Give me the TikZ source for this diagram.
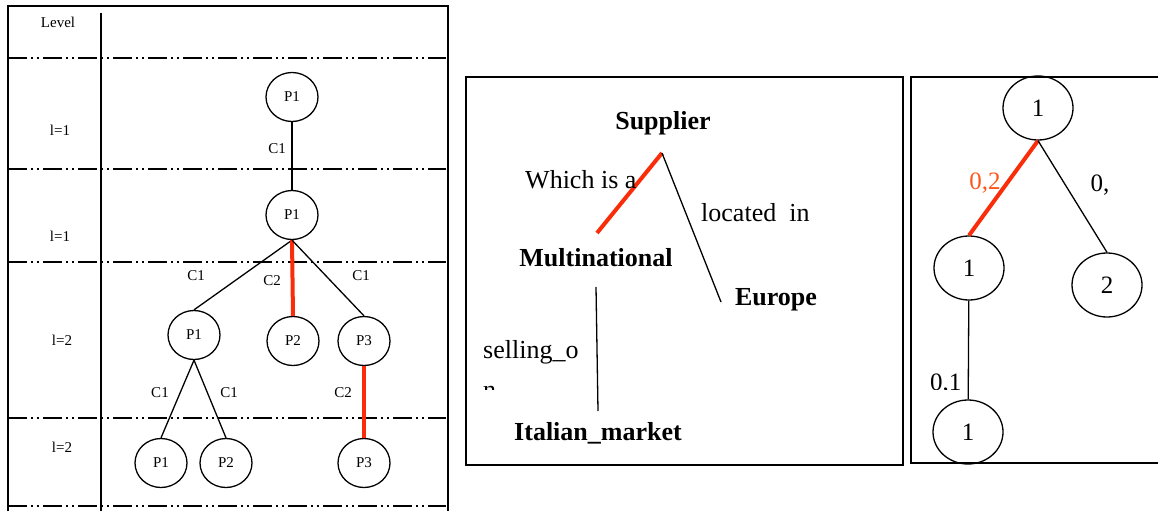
\documentclass[tikz,border=0pt]{standalone}
\usepackage{fontspec}
\setmainfont{Liberation Serif}
\usetikzlibrary{shapes.geometric}
\definecolor{hot}{RGB}{250,45,10}
\definecolor{hottext}{RGB}{255,85,25}

\begin{document}
\begin{tikzpicture}[x=1pt,y=-1pt,
    pn/.style={ellipse,draw,line width=1.3pt,minimum width=52pt,minimum height=49pt,
      inner sep=0pt,font=\fontsize{15}{15}\selectfont},
    rn/.style={ellipse,draw,line width=1.3pt,minimum width=70pt,minimum height=64pt,
      inner sep=0pt,font=\fontsize{25}{25}\selectfont},
    lab/.style={inner sep=0pt,font=\fontsize{15}{15}\selectfont},
    rlab/.style={inner sep=0pt,font=\fontsize{25}{25}\selectfont},
    term/.style={inner sep=0pt,font=\fontsize{26}{26}\selectfont\bfseries},
    rel/.style={inner sep=0pt,font=\fontsize{26}{26}\selectfont},
    edge/.style={line width=1.3pt},
    hl/.style={hot,line width=4pt},
    frame/.style={line width=1.8pt},
    lvl/.style={line width=1.8pt,dash pattern=on 19pt off 4pt on 2pt off 4pt on 2pt off 4pt}]
  \useasboundingbox (0,0) rectangle (1158,511);

  % level table
  \draw[frame] (8,511) -- (8,6) -- (448,6) -- (448,511);
  \draw[frame] (101,13) -- (101,511);
  \draw[lvl] (8,58) -- (446,58);
  \draw[lvl] (8,169) -- (446,169);
  \draw[lvl] (8,262) -- (446,262);
  \draw[lvl] (8,418) -- (446,418);
  \draw[lvl] (8,506) -- (446,506);
  \node[lab] (lv) at (58,22) {Level};
  \node[lab] (l1) at (60,130) {l=1};
  \node[lab] (l2) at (60,236) {l=1};
  \node[lab] (l3) at (62,340) {l=2};
  \node[lab] (l4) at (62,447) {l=2};

  \node[pn] (p11) at (292,97) {P1};
  \node[pn] (p21) at (292,215) {P1};
  \node[pn] (p31) at (194,335) {P1};
  \node[pn] (p32) at (293,341) {P2};
  \node[pn] (p33) at (364,341) {P3};
  \node[pn] (p41) at (161,463) {P1};
  \node[pn] (p42) at (226,463) {P2};
  \node[pn] (p43) at (364,463) {P3};
  \draw[edge] (p11) -- (p21);
  \draw[edge] (p21.south) -- (p31.north);
  \draw[hl] (p21.south) -- (p32.north);
  \draw[edge] (p21.south) -- (p33.north);
  \draw[edge] (p31.south) -- (p41.north);
  \draw[edge] (p31.south) -- (p42.north);
  \draw[hl] (p33) -- (p43);
  \node[lab] (c1) at (277,149) {C1};
  \node[lab] (c2) at (196,276) {C1};
  \node[lab] (c3) at (272,281) {C2};
  \node[lab] (c4) at (361,276) {C1};
  \node[lab] (c5) at (160,393) {C1};
  \node[lab] (c6) at (229,393) {C1};
  \node[lab] (c7) at (343,393) {C2};

  % ontology
  \draw[frame] (466,77) rectangle (903,465);
  \node[term] (sup) at (663,123) {Supplier};
  \node[term] (mul) at (596,258) {Multinational};
  \node[term] (eur) at (776,300) {Europe};
  \node[term] (ita) at (598,433) {Italian\_market};
  \coordinate (s0) at (662,153);
  \coordinate (m0) at (597,233);
  \coordinate (m1) at (596,287);
  \coordinate (e0) at (721,302);
  \coordinate (i0) at (598,411);
  \draw[hl] (s0) -- (m0);
  \draw[edge] (s0) -- (e0);
  \draw[edge] (m1) -- (i0);
  \node[rel,anchor=west] (wia) at (525,180) {Which is a};
  \node[rel,anchor=west] (loc) at (701,213) {located\ \ in};
  \node[rel,anchor=base west] (sel) at (483,358) {selling\_o};
  \begin{scope}
    \clip (470,370) rectangle (600,389);
    \node[rel,anchor=base west] (sel2) at (483,398) {n};
  \end{scope}

  % weighted tree
  \draw[frame] (1160,77) -- (911,77) -- (911,463) -- (1160,463);
  \node[rn] (r1) at (1038,108) {1};
  \node[rn] (r2) at (969,268) {1};
  \node[rn] (r3) at (1107,285) {2};
  \node[rn] (r4) at (968,432) {1};
  \draw[hl] (r1.south) -- (r2.north);
  \draw[edge] (r1.south) -- (r3.north);
  \draw[edge] (r2) -- (r4);
  \node[rlab,text=hottext] (w1) at (985,183) {0,2};
  \node[rlab] (w2) at (1100,185) {0,};
  \begin{scope}
    \clip (920,360) rectangle (965,389);
    \node[rlab,anchor=base west] (w3) at (930,390) {0,1};
  \end{scope}
\end{tikzpicture}
\end{document}
